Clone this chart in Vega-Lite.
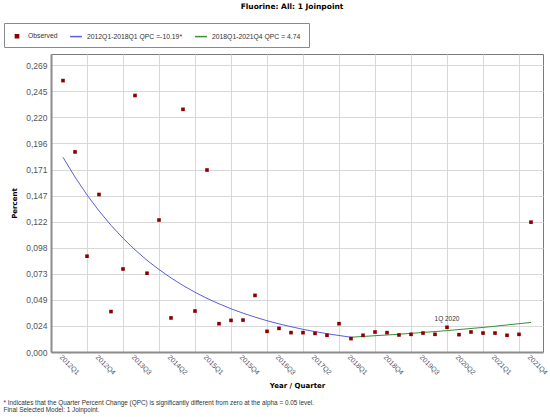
{
  "$schema": "https://vega.github.io/schema/vega-lite/v6.json",
  "padding": {"left": 3, "top": 2, "right": 2, "bottom": 2},
  "background": "white",
  "datasets": {
    "observed": [
      {"quarter": "2012Q1", "t": 0, "percent": 0.255},
      {"quarter": "2012Q2", "t": 1, "percent": 0.188},
      {"quarter": "2012Q3", "t": 2, "percent": 0.090},
      {"quarter": "2012Q4", "t": 3, "percent": 0.148},
      {"quarter": "2013Q1", "t": 4, "percent": 0.038},
      {"quarter": "2013Q2", "t": 5, "percent": 0.078},
      {"quarter": "2013Q3", "t": 6, "percent": 0.241},
      {"quarter": "2013Q4", "t": 7, "percent": 0.074},
      {"quarter": "2014Q1", "t": 8, "percent": 0.124},
      {"quarter": "2014Q2", "t": 9, "percent": 0.032},
      {"quarter": "2014Q3", "t": 10, "percent": 0.228},
      {"quarter": "2014Q4", "t": 11, "percent": 0.0385},
      {"quarter": "2015Q1", "t": 12, "percent": 0.171},
      {"quarter": "2015Q2", "t": 13, "percent": 0.0266},
      {"quarter": "2015Q3", "t": 14, "percent": 0.0297},
      {"quarter": "2015Q4", "t": 15, "percent": 0.0300},
      {"quarter": "2016Q1", "t": 16, "percent": 0.0532},
      {"quarter": "2016Q2", "t": 17, "percent": 0.0194},
      {"quarter": "2016Q3", "t": 18, "percent": 0.0222},
      {"quarter": "2016Q4", "t": 19, "percent": 0.0182},
      {"quarter": "2017Q1", "t": 20, "percent": 0.0182},
      {"quarter": "2017Q2", "t": 21, "percent": 0.0175},
      {"quarter": "2017Q3", "t": 22, "percent": 0.0157},
      {"quarter": "2017Q4", "t": 23, "percent": 0.0266},
      {"quarter": "2018Q1", "t": 24, "percent": 0.0126},
      {"quarter": "2018Q2", "t": 25, "percent": 0.0157},
      {"quarter": "2018Q3", "t": 26, "percent": 0.0188},
      {"quarter": "2018Q4", "t": 27, "percent": 0.0182},
      {"quarter": "2019Q1", "t": 28, "percent": 0.0160},
      {"quarter": "2019Q2", "t": 29, "percent": 0.0166},
      {"quarter": "2019Q3", "t": 30, "percent": 0.0178},
      {"quarter": "2019Q4", "t": 31, "percent": 0.0166},
      {"quarter": "2020Q1", "t": 32, "percent": 0.0232, "note": "1Q 2020"},
      {"quarter": "2020Q2", "t": 33, "percent": 0.0163},
      {"quarter": "2020Q3", "t": 34, "percent": 0.0188},
      {"quarter": "2020Q4", "t": 35, "percent": 0.0178},
      {"quarter": "2021Q1", "t": 36, "percent": 0.0178},
      {"quarter": "2021Q2", "t": 37, "percent": 0.0157},
      {"quarter": "2021Q3", "t": 38, "percent": 0.0166},
      {"quarter": "2021Q4", "t": 39, "percent": 0.1220}
    ],
    "fitted": [
      {"segment": "2012Q1-2018Q1 QPC =-10.19*", "t": 0, "percent": 0.1830},
      {"segment": "2012Q1-2018Q1 QPC =-10.19*", "t": 1, "percent": 0.1644},
      {"segment": "2012Q1-2018Q1 QPC =-10.19*", "t": 2, "percent": 0.1476},
      {"segment": "2012Q1-2018Q1 QPC =-10.19*", "t": 3, "percent": 0.1326},
      {"segment": "2012Q1-2018Q1 QPC =-10.19*", "t": 4, "percent": 0.1191},
      {"segment": "2012Q1-2018Q1 QPC =-10.19*", "t": 5, "percent": 0.1069},
      {"segment": "2012Q1-2018Q1 QPC =-10.19*", "t": 6, "percent": 0.0960},
      {"segment": "2012Q1-2018Q1 QPC =-10.19*", "t": 7, "percent": 0.0862},
      {"segment": "2012Q1-2018Q1 QPC =-10.19*", "t": 8, "percent": 0.0775},
      {"segment": "2012Q1-2018Q1 QPC =-10.19*", "t": 9, "percent": 0.0696},
      {"segment": "2012Q1-2018Q1 QPC =-10.19*", "t": 10, "percent": 0.0625},
      {"segment": "2012Q1-2018Q1 QPC =-10.19*", "t": 11, "percent": 0.0561},
      {"segment": "2012Q1-2018Q1 QPC =-10.19*", "t": 12, "percent": 0.0504},
      {"segment": "2012Q1-2018Q1 QPC =-10.19*", "t": 13, "percent": 0.0453},
      {"segment": "2012Q1-2018Q1 QPC =-10.19*", "t": 14, "percent": 0.0406},
      {"segment": "2012Q1-2018Q1 QPC =-10.19*", "t": 15, "percent": 0.0365},
      {"segment": "2012Q1-2018Q1 QPC =-10.19*", "t": 16, "percent": 0.0328},
      {"segment": "2012Q1-2018Q1 QPC =-10.19*", "t": 17, "percent": 0.0294},
      {"segment": "2012Q1-2018Q1 QPC =-10.19*", "t": 18, "percent": 0.0264},
      {"segment": "2012Q1-2018Q1 QPC =-10.19*", "t": 19, "percent": 0.0238},
      {"segment": "2012Q1-2018Q1 QPC =-10.19*", "t": 20, "percent": 0.0213},
      {"segment": "2012Q1-2018Q1 QPC =-10.19*", "t": 21, "percent": 0.0192},
      {"segment": "2012Q1-2018Q1 QPC =-10.19*", "t": 22, "percent": 0.0172},
      {"segment": "2012Q1-2018Q1 QPC =-10.19*", "t": 23, "percent": 0.0155},
      {"segment": "2012Q1-2018Q1 QPC =-10.19*", "t": 24, "percent": 0.0139},
      {"segment": "2018Q1-2021Q4 QPC =  4.74", "t": 24, "percent": 0.0139},
      {"segment": "2018Q1-2021Q4 QPC =  4.74", "t": 25, "percent": 0.0146},
      {"segment": "2018Q1-2021Q4 QPC =  4.74", "t": 26, "percent": 0.0153},
      {"segment": "2018Q1-2021Q4 QPC =  4.74", "t": 27, "percent": 0.0160},
      {"segment": "2018Q1-2021Q4 QPC =  4.74", "t": 28, "percent": 0.0167},
      {"segment": "2018Q1-2021Q4 QPC =  4.74", "t": 29, "percent": 0.0175},
      {"segment": "2018Q1-2021Q4 QPC =  4.74", "t": 30, "percent": 0.0184},
      {"segment": "2018Q1-2021Q4 QPC =  4.74", "t": 31, "percent": 0.0192},
      {"segment": "2018Q1-2021Q4 QPC =  4.74", "t": 32, "percent": 0.0201},
      {"segment": "2018Q1-2021Q4 QPC =  4.74", "t": 33, "percent": 0.0211},
      {"segment": "2018Q1-2021Q4 QPC =  4.74", "t": 34, "percent": 0.0221},
      {"segment": "2018Q1-2021Q4 QPC =  4.74", "t": 35, "percent": 0.0231},
      {"segment": "2018Q1-2021Q4 QPC =  4.74", "t": 36, "percent": 0.0242},
      {"segment": "2018Q1-2021Q4 QPC =  4.74", "t": 37, "percent": 0.0254},
      {"segment": "2018Q1-2021Q4 QPC =  4.74", "t": 38, "percent": 0.0266},
      {"segment": "2018Q1-2021Q4 QPC =  4.74", "t": 39, "percent": 0.0278}
    ]
  },
  "title": {
    "text": ["* Indicates that the Quarter Percent Change (QPC) is significantly different from zero at the alpha = 0.05 level.", "Final Selected Model: 1 Joinpoint."],
    "orient": "bottom",
    "anchor": "start",
    "font": "Liberation Sans",
    "fontSize": 6.4,
    "fontWeight": "normal",
    "color": "#333333",
    "lineHeight": 6.5,
    "offset": 11
  },
  "vconcat": [
    {
      "width": 492,
      "height": 298,
      "title": {
        "text": "Fluorine: All: 1 Joinpoint",
        "font": "DejaVu Sans",
        "fontSize": 7.5,
        "fontWeight": "bold",
        "color": "#000000",
        "anchor": "middle",
        "offset": 44,
        "dx": -5
      },
      "layer": [
        {
          "data": {"name": "fitted"},
          "mark": {"type": "line", "strokeWidth": 1, "clip": true},
          "encoding": {
            "x": {
              "field": "t",
              "type": "quantitative",
              "scale": {"domain": [-1, 40], "nice": false, "zero": false},
              "axis": {
                "title": "Year / Quarter",
                "values": [0, 2, 3, 5, 6, 8, 9, 11, 12, 14, 15, 17, 18, 20, 21, 23, 24, 26, 27, 29, 30, 32, 33, 35, 36, 38, 39],
                "tickCount": 100,
                "labelExpr": "datum.value % 3 == 0 ? (2012 + floor(datum.value / 4)) + 'Q' + (datum.value % 4 + 1) : ''",
                "labelAngle": 45,
                "labelAlign": "left",
                "labelBaseline": "top",
                "labelFontSize": 7,
                "labelPadding": 1,
                "labelOverlap": false,
                "labelFlush": false,
                "gridOpacity": {"condition": {"test": "datum.value % 3 == 2", "value": 1}, "value": 0},
                "titlePadding": 6
              }
            },
            "y": {
              "field": "percent",
              "type": "quantitative",
              "scale": {"domain": [0, 0.28], "nice": false},
              "axis": {
                "title": "Percent",
                "values": [0, 0.02449, 0.04898, 0.07347, 0.09796, 0.12245, 0.14694, 0.17143, 0.19592, 0.22041, 0.2449, 0.26939],
                "tickCount": 100,
                "labelOverlap": false,
                "labelFlush": false,
                "labelExpr": "replace(format(datum.value, '.3f'), '.', ',')",
                "labelFontSize": 8.5,
                "labelPadding": 4,
                "titlePadding": 8
              }
            },
            "color": {
              "field": "segment",
              "type": "nominal",
              "scale": {
                "domain": ["Observed", "2012Q1-2018Q1 QPC =-10.19*", "2018Q1-2021Q4 QPC =  4.74"],
                "range": ["#8b0000", "#5c5ce0", "#3a8f3a"]
              },
              "legend": {
                "title": null,
                "orient": "none",
                "legendX": -47,
                "legendY": -31,
                "direction": "horizontal",
                "strokeColor": "#8a8a8a",
                "fillColor": "white",
                "padding": 6,
                "labelFont": "Liberation Sans",
                "labelFontSize": 6.8,
                "labelColor": "#333333",
                "labelOffset": 4,
                "columnPadding": 9,
                "symbolSize": 140,
                "symbolStrokeWidth": 1.5,
                "encode": {
                  "symbols": {
                    "update": {
                      "shape": {"signal": "datum.value === 'Observed' ? 'square' : 'stroke'"},
                      "size": {"signal": "datum.value === 'Observed' ? 10 : 140"},
                      "fill": {"signal": "datum.value === 'Observed' ? '#8b0000' : 'transparent'"},
                      "stroke": {"signal": "datum.value === 'Observed' ? 'transparent' : (datum.value === '2012Q1-2018Q1 QPC =-10.19*' ? '#1010c0' : '#208020')"},
                      "strokeWidth": {"value": 1.5},
                      "opacity": {"value": 1}
                    }
                  }
                }
              }
            }
          }
        },
        {
          "data": {"name": "observed"},
          "mark": {"type": "square", "size": 13, "opacity": 1, "filled": true},
          "encoding": {
            "x": {"field": "t", "type": "quantitative"},
            "y": {"field": "percent", "type": "quantitative"},
            "color": {"datum": "Observed", "type": "nominal"}
          }
        },
        {
          "data": {"name": "observed"},
          "transform": [{"filter": "isValid(datum.note)"}],
          "mark": {"type": "text", "font": "Liberation Sans", "fontSize": 6.5, "color": "#333333", "dy": -8, "baseline": "middle"},
          "encoding": {
            "x": {"field": "t", "type": "quantitative"},
            "y": {"field": "percent", "type": "quantitative"},
            "text": {"field": "note"}
          }
        }
      ]
    }
  ],
  "config": {
    "view": {"stroke": "#7a7a7a", "strokeWidth": 1},
    "font": "Liberation Sans",
    "axis": {
      "grid": true,
      "gridColor": "#d8d8d8",
      "gridWidth": 1,
      "domainColor": "#8c8c8c",
      "domainWidth": 2,
      "labelColor": "#555555",
      "labelFont": "Liberation Sans",
      "ticks": false,
      "titleFont": "DejaVu Sans",
      "titleFontWeight": "bold",
      "titleFontSize": 7,
      "titleColor": "#000000"
    }
  }
}
